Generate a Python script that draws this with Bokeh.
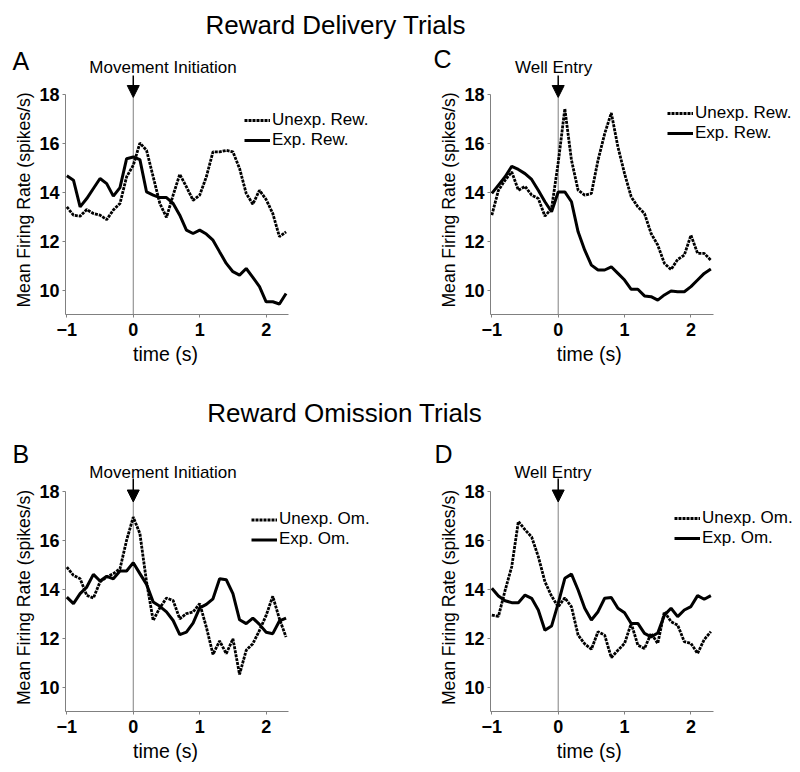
import math
from bokeh.plotting import figure
from bokeh.models import (Range1d, FixedTicker, Label, Legend, LegendItem, Arrow,
                          NormalHead, ColumnDataSource)
from bokeh.layouts import column, row
from bokeh.embed import file_html
from bokeh.resources import INLINE

# ---------------- data ----------------
time_s = [-1.0, -0.9, -0.8, -0.7, -0.6, -0.5, -0.4, -0.3, -0.2, -0.1,
          0.0, 0.1, 0.2, 0.3, 0.4, 0.5, 0.6, 0.7, 0.8, 0.9,
          1.0, 1.1, 1.2, 1.3, 1.4, 1.5, 1.6, 1.7, 1.8, 1.9,
          2.0, 2.1, 2.2, 2.3]
x_ticks = [-1, 0, 1, 2]
y_ticks = [10, 12, 14, 16, 18]
event_time = 0

A_unexp = [13.40, 13.06, 13.02, 13.29, 13.13, 13.06, 12.88, 13.27, 13.54, 14.63,
           15.10, 16.01, 15.71, 14.63, 13.54, 12.97, 13.88, 14.73, 14.22, 13.67,
           13.88, 14.63, 15.65, 15.65, 15.71, 15.65, 14.97, 13.95, 13.51, 14.08,
           13.70, 13.13, 12.18, 12.38]
A_exp = [14.67, 14.49, 13.40, 13.74, 14.15, 14.56, 14.35, 13.84, 14.19, 15.37,
         15.44, 15.33, 14.01, 13.88, 13.78, 13.78, 13.54, 13.06, 12.45, 12.31,
         12.45, 12.29, 12.04, 11.56, 11.09, 10.75, 10.61, 10.88, 10.52, 10.14,
         9.52, 9.52, 9.43, 9.86]
C_unexp = [13.06, 14.08, 14.49, 14.83, 14.08, 14.24, 13.88, 13.74, 13.02, 13.33,
           15.20, 17.41, 15.31, 14.08, 13.88, 13.95, 15.31, 16.39, 17.24, 15.85,
           14.76, 13.81, 13.40, 13.13, 12.31, 11.84, 11.09, 10.84, 11.25, 11.43,
           12.24, 11.50, 11.50, 11.22]
C_exp = [13.95, 14.29, 14.63, 15.06, 14.93, 14.76, 14.52, 14.08, 13.61, 13.20,
         14.01, 14.01, 13.61, 12.38, 11.63, 11.02, 10.82, 10.82, 10.95, 10.68,
         10.41, 10.03, 10.03, 9.76, 9.73, 9.59, 9.80, 9.96, 9.93, 9.93,
         10.14, 10.41, 10.68, 10.86]
B_unexp = [14.92, 14.58, 14.44, 13.76, 13.65, 14.31, 14.51, 14.65, 14.85, 16.02,
           16.97, 16.29, 14.31, 12.73, 13.25, 13.65, 13.55, 12.80, 13.01, 13.08,
           13.42, 12.46, 11.34, 11.89, 11.37, 11.98, 10.52, 11.51, 11.78, 12.32,
           12.94, 13.72, 12.80, 12.05]
B_exp = [13.69, 13.42, 13.83, 14.10, 14.62, 14.35, 14.54, 14.44, 14.76, 14.76,
         15.10, 14.65, 14.21, 13.49, 13.31, 13.08, 12.73, 12.15, 12.25, 12.62,
         13.25, 13.39, 13.62, 14.44, 14.40, 13.83, 12.76, 12.60, 12.83, 12.57,
         12.25, 12.19, 12.71, 12.83]
D_unexp = [12.95, 12.90, 13.96, 14.94, 16.79, 16.45, 16.15, 15.35, 14.32, 13.73,
           13.29, 13.66, 13.29, 12.13, 11.77, 11.55, 12.27, 12.13, 11.21, 11.51,
           11.79, 12.61, 11.72, 11.58, 12.20, 11.79, 13.09, 12.68, 12.54, 11.86,
           11.79, 11.38, 11.95, 12.27]
D_exp = [14.05, 13.73, 13.54, 13.46, 13.46, 13.77, 13.64, 13.16, 12.33, 12.50,
         13.43, 14.46, 14.63, 13.98, 13.23, 12.75, 13.09, 13.64, 13.67, 13.23,
         13.05, 12.61, 12.61, 12.20, 12.06, 12.22, 12.95, 13.23, 12.89, 13.16,
         13.30, 13.75, 13.60, 13.75]

# ---------------- styling / layout ----------------
FONT = "Liberation Sans"
X0 = -1.02
X_END = 2.34
Y0, Y_TOP = 9, 18
PX_PER_S = 66.8
GRAY = "#808080"
BL = 0.28   # baseline correction (fraction of font size)


def blank_fig(w, h):
    p = figure(width=w, height=h, output_backend="svg", toolbar_location=None, title=None,
               x_range=Range1d(0, w), y_range=Range1d(0, h),
               x_axis_type=None, y_axis_type=None,
               min_border_left=0, min_border_right=0, min_border_top=0, min_border_bottom=0)
    p.outline_line_color = None
    p.xgrid.visible = False
    p.ygrid.visible = False
    return p


def add_text(p, x, y, text, size, align="left", angle=0.0, style="normal"):
    p.add_layout(Label(x=x, y=y, text=text, text_font=FONT, text_font_size=f"{size}px",
                       text_font_style=style, text_baseline="alphabetic", text_align=align,
                       angle=angle, text_color="black"))


def make_panel(spec, unexp, exp, labels):
    s_left, s_w = spec["strip"]
    m_left, m_w = spec["main"]
    top, rh = spec["row"]
    FL, FB, MB, pyu = spec["FL"], spec["FB"], spec["MB"], spec["pyu"]

    def X(px):
        return X0 + (px - FL) / PX_PER_S

    def Y(py):
        return Y0 + (FB - py) / pyu

    # ---- main plot ----
    p = figure(width=m_w, height=MB - top, output_backend="svg", toolbar_location=None, title=None,
               x_range=Range1d(X0, X0 + (m_left + m_w - FL) / PX_PER_S),
               y_range=Range1d(Y0, Y0 + (FB - top) / pyu),
               min_border_left=FL - m_left, min_border_right=0, min_border_top=0,
               min_border_bottom=MB - FB)
    p.outline_line_color = None
    p.xgrid.visible = False
    p.ygrid.visible = False

    for ax in (p.xaxis[0], p.yaxis[0]):
        ax.axis_line_color = GRAY
        ax.axis_line_width = 1
        ax.major_tick_line_color = GRAY
        ax.major_tick_out = 3
        ax.major_tick_in = 0
        ax.minor_tick_out = 0
        ax.minor_tick_in = 0
        ax.major_label_text_font = FONT
        ax.major_label_text_font_style = "bold"
        ax.major_label_text_font_size = "18px"
        ax.major_label_text_color = "black"
    p.xaxis.ticker = FixedTicker(ticks=x_ticks)
    p.yaxis.ticker = FixedTicker(ticks=y_ticks)
    p.xaxis.bounds = (X0, X_END)
    p.yaxis.bounds = (Y0, Y_TOP)
    p.xaxis.major_label_standoff = 5
    p.yaxis.major_label_standoff = 3

    src = ColumnDataSource(dict(t=time_s, unexp=unexp, exp=exp))
    a0, a1 = spec["arrow"]
    p.segment(x0=[event_time], y0=[Y0], x1=[event_time], y1=[Y(a1)],
              line_color=GRAY, line_width=1)
    r1 = p.line("t", "unexp", source=src, line_color="black", line_width=2.8,
                line_dash="3 1")
    r2 = p.line("t", "exp", source=src, line_color="black", line_width=3)

    p.add_layout(Arrow(end=NormalHead(size=12, fill_color="black", line_color="black", line_width=1),
                       x_start=event_time, y_start=Y(a0), x_end=event_time, y_end=Y(a1),
                       line_color="black", line_width=1.5))

    leg = Legend(items=[LegendItem(label=labels[0], renderers=[r1]),
                        LegendItem(label=labels[1], renderers=[r2])],
                 location=spec["legend"], orientation="vertical",
                 border_line_color=None, background_fill_alpha=0,
                 padding=0, margin=0, spacing=0,
                 glyph_width=26, glyph_height=spec["pitch"], label_height=spec["pitch"],
                 label_standoff=2, label_text_font=FONT, label_text_font_size="17px",
                 label_text_color="black")
    p.add_layout(leg)

    ex, ey = spec["event_xy"]
    add_text(p, X(ex), Y(ey - BL * 17), spec["event"], 17)

    # ---- left strip: panel letter + y-axis title ----
    sl = blank_fig(s_w, rh)
    lx, ly = spec["letter_xy"]
    add_text(sl, lx - s_left, top + rh - (ly - BL * 25), spec["letter"], 25)
    yx, yy = spec["ylab_xy"]
    add_text(sl, yx - s_left - BL * 17.6, top + rh - yy, "Mean Firing Rate (spikes/s)", 17.6,
             align="center", angle=math.pi / 2)

    # ---- bottom strip: x-axis title ----
    sb = blank_fig(m_w, top + rh - MB)
    xx, xy = spec["xlab_xy"]
    add_text(sb, xx - m_left, top + rh - (xy - BL * 19.5), "time (s)", 19.5, align="center")

    return row(sl, column(p, sb))


def title_fig(text, top, h, left, baseline, size=26):
    p = blank_fig(800, h)
    add_text(p, left, top + h - (baseline - BL * size), text, size)
    return p


specA = dict(strip=(0, 36), main=(36, 394), row=(40, 355), FL=63, FB=314, MB=343, pyu=24.46,
             letter="A", letter_xy=(12, 67), event="Movement Initiation", event_xy=(87, 72),
             arrow=(75, 97), legend=(179, 164), pitch=20, ylab_xy=(28, 199.5), xlab_xy=(144, 358.5))
specC = dict(strip=(430, 31), main=(461, 339), row=(40, 355), FL=488, FB=314, MB=343, pyu=24.46,
             letter="C", letter_xy=(433, 65.5), event="Well Entry", event_xy=(512.7, 72),
             arrow=(75, 97), legend=(177, 171), pitch=20, ylab_xy=(453, 199.5), xlab_xy=(569, 358.5))
specB = dict(strip=(0, 36), main=(36, 394), row=(430, 340), FL=63, FB=711, MB=740, pyu=24.4,
             letter="B", letter_xy=(12, 460), event="Movement Initiation", event_xy=(87, 477),
             arrow=(478, 501.5), legend=(186, 162), pitch=19, ylab_xy=(28, 597), xlab_xy=(144, 756))
specD = dict(strip=(430, 31), main=(461, 339), row=(430, 340), FL=488, FB=711, MB=740, pyu=24.4,
             letter="D", letter_xy=(434, 460), event="Well Entry", event_xy=(512, 477),
             arrow=(478, 501.5), legend=(184, 163), pitch=20, ylab_xy=(453, 597), xlab_xy=(569, 756))

pA = make_panel(specA, A_unexp, A_exp, ("Unexp. Rew.", "Exp. Rew."))
pC = make_panel(specC, C_unexp, C_exp, ("Unexp. Rew.", "Exp. Rew."))
pB = make_panel(specB, B_unexp, B_exp, ("Unexp. Om.", "Exp. Om."))
pD = make_panel(specD, D_unexp, D_exp, ("Unexp. Om.", "Exp. Om."))

t1 = title_fig("Reward Delivery Trials", 0, 40, 205, 32)
t2 = title_fig("Reward Omission Trials", 395, 35, 206.7, 420)

layout = column(t1, row(pA, pC), t2, row(pB, pD))
open("out.html", "w").write(file_html(layout, INLINE))
